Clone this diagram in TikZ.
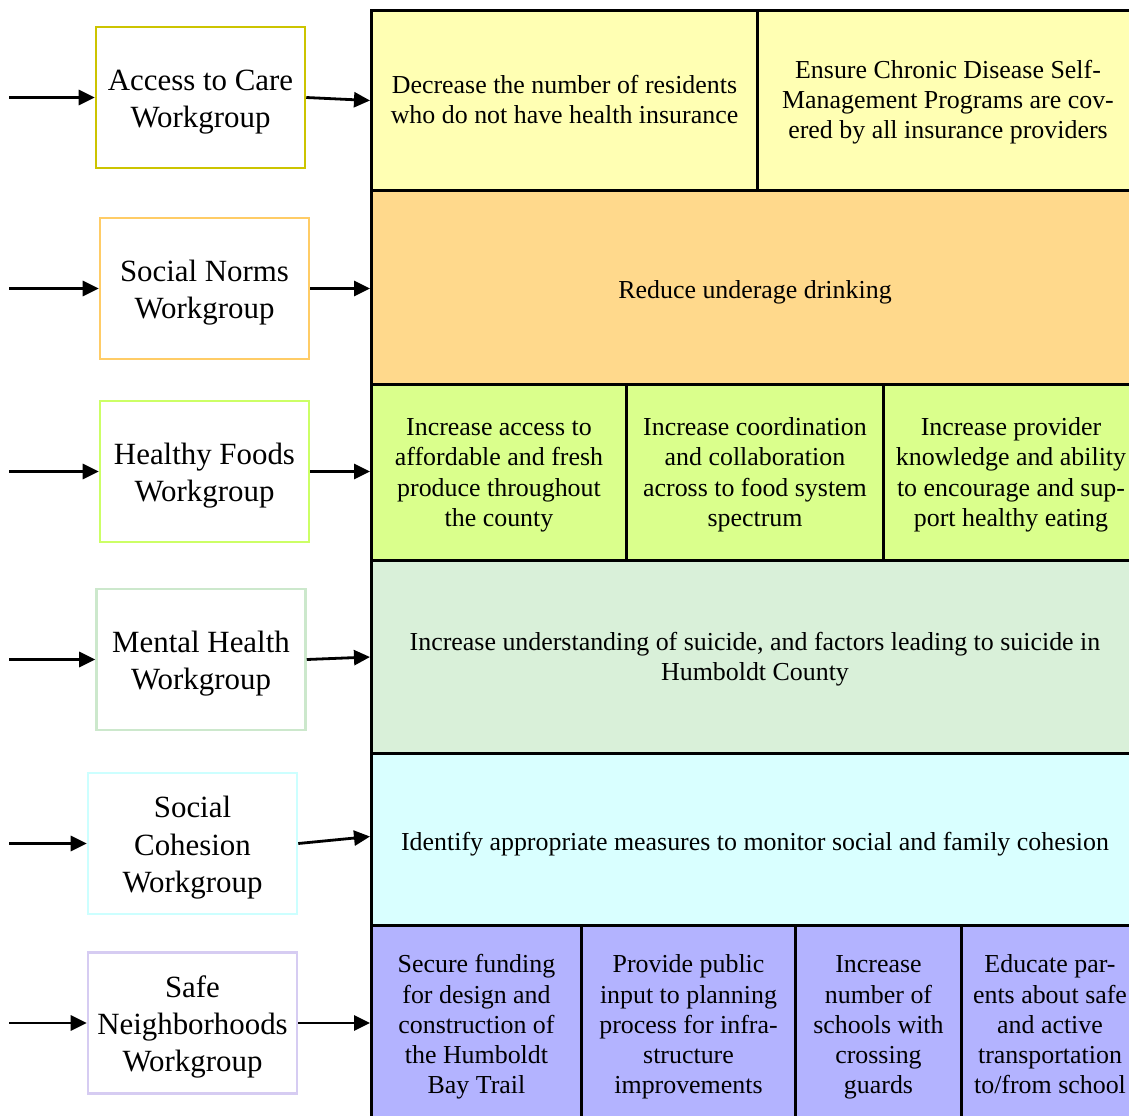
\documentclass[tikz,border=0pt]{standalone}
\usepackage{fontspec}
\setmainfont{Liberation Serif}
\usetikzlibrary{arrows.meta}
\definecolor{rowA}{HTML}{FFFFB3}
\definecolor{rowB}{HTML}{FFD98C}
\definecolor{rowC}{HTML}{DAFF8C}
\definecolor{rowD}{HTML}{D9F0D9}
\definecolor{rowE}{HTML}{D9FFFF}
\definecolor{rowF}{HTML}{B3B3FF}
\definecolor{edgeA}{HTML}{CCC400}
\definecolor{edgeB}{HTML}{FFCC66}
\definecolor{edgeC}{HTML}{CCFF66}
\definecolor{edgeD}{HTML}{CCE8CC}
\definecolor{edgeE}{HTML}{CCFFFF}
\definecolor{edgeF}{HTML}{D6CCF2}
% text block framed by invisible struts: #1 = room above the first line (em)
\newcommand\txtblock[2]{\rule{0pt}{#1em}#2\rule[-0.25em]{0pt}{0.25em}}
\tikzset{
  cell/.style={draw=black, line width=3bp, anchor=north west, inner sep=0pt,
    align=center, font=\fontsize{26}{30.3}\selectfont},
  wgbox/.style={draw, line width=2.5bp, fill=white, minimum width=209bp,
    minimum height=141bp, inner sep=0pt, align=center,
    font=\fontsize{31}{37.5}\selectfont},
  flow/.style={line width=2.8bp, -{Triangle[length=16bp,width=15bp]}}
}
\begin{document}
\begin{tikzpicture}[x=1bp, y=-1bp]
\useasboundingbox (0,0) rectangle (1129,1116);
\clip (0,0) rectangle (1129,1116);
\fill[white] (0,0) rectangle (1129,1116);

% goal cells, one row per workgroup
\node[cell, fill=rowA, minimum width=386bp, minimum height=180bp] (a1) at (370,9)
  {\txtblock{0.85}{Decrease the number of residents\\who do not have health insurance}};
\node[cell, fill=rowA, minimum width=381bp, minimum height=180bp] (a2) at (756,9)
  {\txtblock{0.85}{Ensure Chronic Disease Self-\\Management Programs are cov-\\ered by all insurance providers}};

\node[cell, fill=rowB, minimum width=767bp, minimum height=194bp] (b1) at (370,189)
  {\txtblock{1.1}{Reduce underage drinking}};

\node[cell, fill=rowC, minimum width=255bp, minimum height=176bp] (c1) at (370,383)
  {\txtblock{0.9}{Increase access to\\affordable and fresh\\produce throughout\\the county}};
\node[cell, fill=rowC, minimum width=257bp, minimum height=176bp] (c2) at (625,383)
  {\txtblock{0.9}{Increase coordination\\and collaboration\\across to food system\\spectrum}};
\node[cell, fill=rowC, minimum width=255bp, minimum height=176bp] (c3) at (882,383)
  {\txtblock{0.9}{Increase provider\\knowledge and ability\\to encourage and sup-\\port healthy eating}};

\node[cell, fill=rowD, minimum width=767bp, minimum height=193bp] (d1) at (370,559)
  {\txtblock{0.9}{Increase understanding of suicide, and factors leading to suicide in\\Humboldt County}};

\node[cell, fill=rowE, minimum width=767bp, minimum height=172bp] (e1) at (370,752)
  {\txtblock{1.1}{Identify appropriate measures to monitor social and family cohesion}};

\node[cell, fill=rowF, minimum width=210bp, minimum height=200bp] (f1) at (370,924)
  {\txtblock{0.85}{Secure funding\\for design and\\construction of\\the Humboldt\\Bay Trail}};
\node[cell, fill=rowF, minimum width=214bp, minimum height=200bp] (f2) at (580,924)
  {\txtblock{0.85}{Provide public\\input to planning\\process for infra-\\structure\\improvements}};
\node[cell, fill=rowF, minimum width=166bp, minimum height=200bp] (f3) at (794,924)
  {\txtblock{0.85}{Increase\\number of\\schools with\\crossing\\guards}};
\node[cell, fill=rowF, minimum width=177bp, minimum height=200bp] (f4) at (960,924)
  {\txtblock{0.85}{Educate par-\\ents about safe\\and active\\transportation\\to/from school}};

% workgroup boxes
\node[wgbox, draw=edgeA] (w1) at (200.5,97.5)  {\txtblock{1.0}{Access to Care\\Workgroup}};
\node[wgbox, draw=edgeB] (w2) at (204.5,288.5) {\txtblock{1.0}{Social Norms\\Workgroup}};
\node[wgbox, draw=edgeC] (w3) at (204.5,471.5) {\txtblock{1.0}{Healthy Foods\\Workgroup}};
\node[wgbox, draw=edgeD] (w4) at (201,659.5)   {\txtblock{1.0}{Mental Health\\Workgroup}};
\node[wgbox, draw=edgeE] (w5) at (192.5,843.5) {\txtblock{1.0}{Social\\Cohesion\\Workgroup}};
\node[wgbox, draw=edgeF] (w6) at (192.5,1023)  {\txtblock{1.0}{Safe\\Neighborhoods\\Workgroup}};

% incoming arrow starts
\coordinate (i1) at (9,97.5);
\coordinate (i2) at (9,288.5);
\coordinate (i3) at (9,471.5);
\coordinate (i4) at (9,659.5);
\coordinate (i5) at (9,843.5);
\coordinate (i6) at (9,1023);

\draw[flow] (i1) -- (i1 -| w1.west);
\draw[flow] (i2) -- (i2 -| w2.west);
\draw[flow] (i3) -- (i3 -| w3.west);
\draw[flow] (i4) -- (i4 -| w4.west);
\draw[flow] (i5) -- (i5 -| w5.west);
\draw[flow] (i6) -- (i6 -| w6.west);

% workgroup to goal arrows
\draw[flow] (w1.east) -- (a1.west);
\draw[flow] (w2.east) -- (w2.east -| b1.west);
\draw[flow] (w3.east) -- (w3.east -| c1.west);
\draw[flow] (w4.east) -- (d1.west);
\draw[flow] (w5.east) -- ([yshift=3bp]e1.west);
\draw[flow] (w6.east) -- (w6.east -| f1.west);
\end{tikzpicture}
\end{document}
